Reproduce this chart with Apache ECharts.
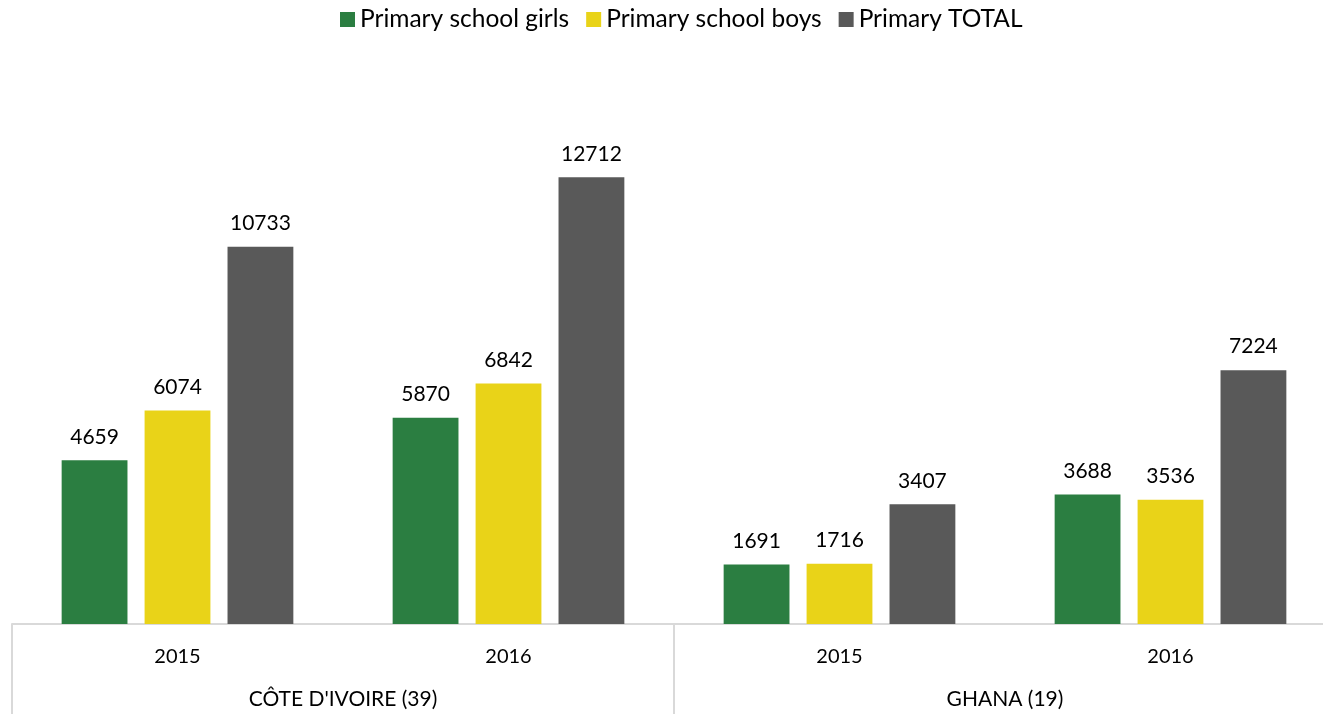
<!DOCTYPE html>
<html><head><meta charset="utf-8">
<script src="https://cdn.jsdelivr.net/npm/echarts@6/dist/echarts.min.js"></script>
<style>html,body{margin:0;padding:0;background:#fff}#c{width:1323px;height:714px}</style>
</head><body><div id="c"></div>
<script>
const years = ['2015', '2016', '2015', '2016'];
const countries = ["CÔTE D'IVOIRE (39)", 'GHANA (19)'];
const seriesNames = ['Primary school girls', 'Primary school boys', 'Primary TOTAL'];
const girls = [4659, 5870, 1691, 3688];
const boys = [6074, 6842, 1716, 3536];
const total = [10733, 12712, 3407, 7224];
const colors = ['#2B7E41', '#E9D318', '#595959'];

const font = 'Lato, "Open Sans", sans-serif';
const chart = echarts.init(document.getElementById('c'));
const mk = (name, data, color) => ({
  name, type: 'bar', data, xAxisIndex: 0,
  itemStyle: { color },
  barGap: '26%', barCategoryGap: '30%',
  label: { show: true, position: 'top', distance: 13, color: '#000', fontSize: 21, fontFamily: font }
});
chart.setOption({
  animation: false,
  textStyle: { fontFamily: font },
  legend: {
    top: 2, left: 335, itemWidth: 15, itemHeight: 15, itemGap: 17,
    textStyle: { fontSize: 24.5, color: '#000', fontFamily: font },
    icon: 'rect'
  },
  grid: { left: 12, right: -13, top: 132, bottom: 90, containLabel: false, outerBoundsMode: 'none' },
  xAxis: [
    { type: 'category', data: years, position: 'bottom',
      axisLine: { show: true, lineStyle: { color: '#d9d9d9', width: 2 } },
      axisTick: { show: false },
      axisLabel: { margin: 23, fontSize: 20, color: '#000', fontFamily: font } },
    { type: 'category', data: countries, position: 'bottom',
      axisLine: { show: false },
      axisTick: { show: true, length: 90, lineStyle: { color: '#d9d9d9', width: 2 } },
      axisLabel: { margin: 65, fontSize: 21, color: '#000', fontFamily: font } }
  ],
  yAxis: { type: 'value', min: 0, max: 14000, show: false, splitLine: { show: false } },
  series: [mk(seriesNames[0], girls, colors[0]), mk(seriesNames[1], boys, colors[1]), mk(seriesNames[2], total, colors[2])]
});
</script></body></html>
